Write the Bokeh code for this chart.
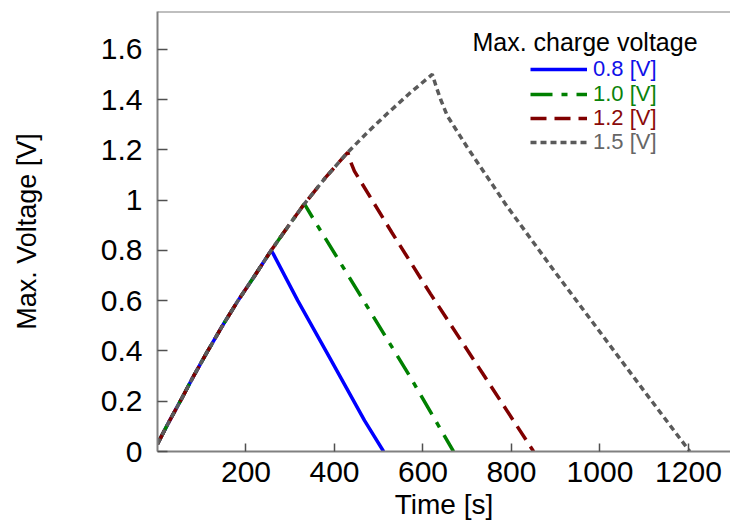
from bokeh.plotting import figure
from bokeh.models import FixedTicker, Legend, LegendItem, Label, Span, Range1d
from bokeh.embed import file_html
from bokeh.resources import INLINE

# Shared charging curve (time in s, voltage in V)
rise_t = [0, 25, 53, 80, 112, 145, 182, 220, 257, 295, 332, 380, 430, 475, 520, 570, 621]
rise_v = [0.03, 0.115, 0.205, 0.295, 0.395, 0.495, 0.60, 0.70, 0.80, 0.895, 0.985, 1.09,
          1.19, 1.27, 1.345, 1.425, 1.50]

# Discharge branches, starting at each maximum charge voltage
dis_t_08 = [257, 262, 317, 390, 468, 511]
dis_v_08 = [0.80, 0.785, 0.60, 0.37, 0.123, 0.0]

dis_t_10 = [332, 354, 410, 463, 570, 669]
dis_v_10 = [0.985, 0.92, 0.76, 0.608, 0.30, 0.0]

dis_t_12 = [430, 437, 445, 530, 617, 735, 850]
dis_v_12 = [1.19, 1.15, 1.115, 0.87, 0.627, 0.31, 0.0]

dis_t_15 = [621, 630, 640, 655, 700, 790, 900, 1000, 1100, 1203]
dis_v_15 = [1.50, 1.45, 1.40, 1.335, 1.21, 0.975, 0.71, 0.475, 0.24, 0.0]

series_labels = ["0.8 [V]", "1.0 [V]", "1.2 [V]", "1.5 [V]"]

x_ticks = [200, 400, 600, 800, 1000, 1200]
x_tick_labels = ["200", "400", "600", "800", "1000", "1200"]
y_ticks = [0, 0.2, 0.4, 0.6, 0.8, 1.0, 1.2, 1.4, 1.6]
y_tick_labels = ["0", "0.2", "0.4", "0.6", "0.8", "1", "1.2", "1.4", "1.6"]

FONT = "Liberation Sans"

p = figure(width=730, height=531, x_range=Range1d(0, 1295), y_range=Range1d(0, 1.75),
           output_backend="svg", toolbar_location=None,
           min_border_left=157, min_border_right=0, min_border_top=11, min_border_bottom=80)
p.outline_line_color = None
p.grid.visible = False
p.background_fill_color = "white"
p.border_fill_color = "white"

p.xaxis.ticker = FixedTicker(ticks=x_ticks)
p.xaxis.major_label_overrides = dict(zip(x_ticks, x_tick_labels))
p.yaxis.ticker = FixedTicker(ticks=y_ticks)
p.yaxis.major_label_overrides = dict(zip(y_ticks, y_tick_labels))

for ax in (p.xaxis[0], p.yaxis[0]):
    ax.axis_line_color = "#808080"
    ax.axis_line_width = 2
    ax.major_tick_line_color = "#505050"
    ax.major_tick_line_width = 1.5
    ax.major_tick_out = 0
    ax.minor_tick_line_color = None
    ax.major_label_text_font = FONT
    ax.major_label_text_font_size = "30px"
    ax.major_label_text_color = "black"
    ax.axis_label_text_font = FONT
    ax.axis_label_text_font_style = "normal"
    ax.axis_label_text_color = "black"

p.xaxis.major_tick_in = 8
p.yaxis.major_tick_in = 10
p.xaxis.major_label_standoff = 10
p.yaxis.major_label_standoff = 15
p.xaxis.axis_label = "Time [s]"
p.yaxis.axis_label = "Max. Voltage [V]"
p.xaxis.axis_label_text_font_size = "28px"
p.yaxis.axis_label_text_font_size = "27px"
p.xaxis.axis_label_standoff = 4
p.yaxis.axis_label_standoff = 56

# top edge of the frame
p.add_layout(Span(location=1.75, dimension="width", line_color="#808080", line_width=2))


def branch(dis_t, dis_v):
    t = [a for a in rise_t if a < dis_t[0]] + dis_t
    v = [b for a, b in zip(rise_t, rise_v) if a < dis_t[0]] + dis_v
    return t, v


styles = [
    (dis_t_08, dis_v_08, "#0000FF", "solid", "#1010E8"),
    (dis_t_10, dis_v_10, "#008000", "22 9 6 9", "#0A820A"),
    (dis_t_12, dis_v_12, "#800000", "16 8", "#8A0A0A"),
    (dis_t_15, dis_v_15, "#5A5A5A", "6 4", "#666666"),
]

renderers = []
for dt, dv, col, dash, _ in styles:
    t, v = branch(dt, dv)
    r = p.line(t, v, line_color=col, line_width=3.5, line_dash=dash)
    renderers.append(r)

# one legend per entry so that each label carries its line colour
row_centers = [70, 94.5, 118.5, 143]
row_h = 24
for r, lab, (_, _, col, _, tcol), yc in zip(renderers, series_labels, styles, row_centers):
    leg = Legend(items=[LegendItem(label=lab, renderers=[r])],
                 location=(373, 451 - yc - row_h / 2),
                 padding=0, margin=0, spacing=0,
                 border_line_color=None, background_fill_alpha=0,
                 glyph_width=57, glyph_height=20, label_height=20, label_standoff=6,
                 label_text_font=FONT, label_text_font_size="22px",
                 label_text_color=tcol)
    p.add_layout(leg)

p.add_layout(Label(x=427.5, y=409.3, x_units="screen", y_units="screen",
                   text="Max. charge voltage", text_align="center",
                   text_baseline="alphabetic", text_font=FONT,
                   text_font_size="25px", text_color="black"))

open("out.html", "w").write(file_html(p, INLINE))
